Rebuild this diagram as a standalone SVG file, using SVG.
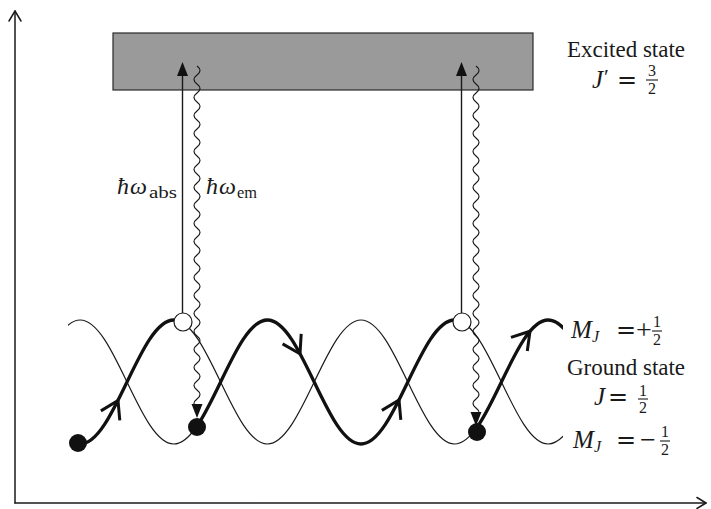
<svg xmlns="http://www.w3.org/2000/svg" xmlns:xlink="http://www.w3.org/1999/xlink" width="711" height="509" viewBox="0 0 711 509">
<style>
.ax{fill:none;stroke:#1a1a1a;stroke-width:1.5;stroke-linecap:round;stroke-linejoin:round}
.thin{fill:none;stroke:#1a1a1a;stroke-width:1.2}
.thick{fill:none;stroke:#111;stroke-width:3.3}
.chev{fill:none;stroke:#111;stroke-width:3;stroke-linecap:butt;stroke-linejoin:miter}
.ln{fill:none;stroke:#1a1a1a;stroke-width:1.4}
.wavy{fill:none;stroke:#1a1a1a;stroke-width:1.2}
.head{fill:#111;stroke:none}
.open{fill:#fff;stroke:#1a1a1a;stroke-width:1.2}
.dot{fill:#111}
.rm{font-family:"Liberation Serif","Times New Roman",serif;fill:#1a1a1a}
.it{font-family:"Liberation Serif","Times New Roman",serif;font-style:italic;fill:#1a1a1a}
.op{font-family:"DejaVu Serif","Liberation Serif",serif;fill:#1a1a1a;text-anchor:middle}
.sg{font-family:"Liberation Serif","Times New Roman",serif;fill:#1a1a1a;text-anchor:middle}
.fr{font-family:"Liberation Serif","Times New Roman",serif;fill:#1a1a1a;text-anchor:middle;font-size:16px}
.bar{stroke:#1a1a1a;stroke-width:1.1}
</style>
<defs>
<path id="waveA" d="M -13.4 320 C 20.7 320 46.1 444 80.2 444 C 114.3 444 139.7 320 173.8 320 C 207.9 320 233.3 444 267.4 444 C 301.5 444 326.9 320 361 320 C 395.1 320 420.5 444 454.6 444 C 488.7 444 514.1 320 548.2 320 C 582.3 320 607.7 444 641.8 444"/>
<path id="waveB" d="M -13.4 444 C 20.7 444 46.1 320 80.2 320 C 114.3 320 139.7 444 173.8 444 C 207.9 444 233.3 320 267.4 320 C 301.5 320 326.9 444 361 444 C 395.1 444 420.5 320 454.6 320 C 488.7 320 514.1 444 548.2 444 C 582.3 444 607.7 320 641.8 320"/>
<clipPath id="cThickA1"><rect x="78" y="300" width="105" height="170"/></clipPath>
<clipPath id="cThickA2"><rect x="477" y="300" width="86" height="170"/></clipPath>
<clipPath id="cThickB"><rect x="197" y="300" width="265" height="170"/></clipPath>
<clipPath id="cThinA"><rect x="183" y="300" width="294" height="170"/></clipPath>
<clipPath id="cThinB1"><rect x="68" y="300" width="129" height="170"/></clipPath>
<clipPath id="cThinB2"><rect x="462" y="300" width="101" height="170"/></clipPath>
</defs>

<g id="axes">
<path class="ax" d="M 15 503 L 15 11"/>
<path class="ax" d="M 9 21 L 15 11 L 21 21"/>
<path class="ax" d="M 15 503 L 706 503"/>
<path class="ax" d="M 697 497.5 L 706 503 L 697 508.5"/>
</g>

<g id="excited-state">
<rect x="113" y="33" width="420" height="57" fill="#9a9a9a" stroke="#2a2a2a" stroke-width="1.2"/>
</g>

<g id="ground-levels">
<use xlink:href="#waveB" class="thin" clip-path="url(#cThinB1)"/>
<use xlink:href="#waveA" class="thin" clip-path="url(#cThinA)"/>
<use xlink:href="#waveB" class="thin" clip-path="url(#cThinB2)"/>
<use xlink:href="#waveA" class="thick" clip-path="url(#cThickA1)"/>
<use xlink:href="#waveB" class="thick" clip-path="url(#cThickB)"/>
<use xlink:href="#waveA" class="thick" clip-path="url(#cThickA2)"/>
<path class="chev" d="M 100.9 410.9 L 118 400.5 L 119.8 420.4"/>
<path class="chev" d="M 282.6 343.9 L 300 353.8 L 301.2 333.8"/>
<path class="chev" d="M 381.9 410.4 L 399 400 L 400.8 419.9"/>
<path class="chev" d="M 511 337.4 L 530 331.2 L 527.3 351"/>
</g>

<g id="connectors">
<line class="ln" x1="182.5" y1="75" x2="182.5" y2="313"/>
<path class="head" d="M 182.5 62 L 188 76 L 177 76 Z"/>
<line class="ln" x1="461.5" y1="75" x2="461.5" y2="313"/>
<path class="head" d="M 461.5 62 L 467 76 L 456 76 Z"/>
<path class="wavy" d="M 197 66 q 6 4.5 0 9 t 0 9 t 0 9 t 0 9 t 0 9 t 0 9 t 0 9 t 0 9 t 0 9 t 0 9 t 0 9 t 0 9 t 0 9 t 0 9 t 0 9 t 0 9 t 0 9 t 0 9 t 0 9 t 0 9 t 0 9 t 0 9 t 0 9 t 0 9 t 0 9 t 0 9 t 0 9 t 0 9 t 0 9 t 0 9 t 0 9 t 0 9 t 0 9 t 0 9 t 0 9 t 0 9 t 0 9 t 0 9"/>
<path class="head" d="M 197 418 L 191.5 404 L 202.5 404 Z"/>
<path class="wavy" d="M 476 66 q 6 4.5 0 9 t 0 9 t 0 9 t 0 9 t 0 9 t 0 9 t 0 9 t 0 9 t 0 9 t 0 9 t 0 9 t 0 9 t 0 9 t 0 9 t 0 9 t 0 9 t 0 9 t 0 9 t 0 9 t 0 9 t 0 9 t 0 9 t 0 9 t 0 9 t 0 9 t 0 9 t 0 9 t 0 9 t 0 9 t 0 9 t 0 9 t 0 9 t 0 9 t 0 9 t 0 9 t 0 9 t 0 9 t 0 9 t 0 9"/>
<path class="head" d="M 476 426 L 470.5 412 L 481.5 412 Z"/>
</g>

<g id="atom-1"><circle class="dot" cx="78" cy="443" r="9"/></g>
<g id="atom-2"><circle class="open" cx="183" cy="322" r="9"/></g>
<g id="atom-3"><circle class="dot" cx="197" cy="427" r="9"/></g>
<g id="atom-4"><circle class="open" cx="462" cy="322" r="9"/></g>
<g id="atom-5"><circle class="dot" cx="477" cy="432" r="9"/></g>

<g id="label-abs">
<text class="it" x="117" y="194" font-size="24">ħ</text>
<text class="it" x="130" y="194" font-size="24">ω</text>
<text class="rm" x="149" y="198" font-size="16" textLength="28" lengthAdjust="spacingAndGlyphs">abs</text>
</g>
<g id="label-em">
<text class="it" x="206" y="194" font-size="24">ħ</text>
<text class="it" x="219" y="194" font-size="24">ω</text>
<text class="rm" x="237" y="198" font-size="16" textLength="20" lengthAdjust="spacingAndGlyphs">em</text>
</g>

<g id="label-excited">
<text class="rm" x="626" y="57" font-size="23" text-anchor="middle">Excited state</text>
<text class="it" x="592" y="88" font-size="25">J</text>
<text class="rm" x="604" y="84" font-size="22">′</text>
<text class="op" x="627" y="88" font-size="24">=</text>
<text class="fr" x="652" y="76">3</text>
<line class="bar" x1="646" y1="80" x2="658" y2="80"/>
<text class="fr" x="652" y="94">2</text>
</g>

<g id="label-plus">
<text class="it" x="571" y="338" font-size="25">M</text>
<text class="it" x="592" y="342" font-size="16">J</text>
<text class="op" x="626" y="338" font-size="24">=</text>
<text class="sg" x="644" y="339" font-size="28">+</text>
<text class="fr" x="657" y="327">1</text>
<line class="bar" x1="652" y1="331" x2="662" y2="331"/>
<text class="fr" x="657" y="345">2</text>
</g>

<g id="label-ground">
<text class="rm" x="626" y="375" font-size="23" text-anchor="middle">Ground state</text>
<text class="it" x="594" y="405" font-size="25">J</text>
<text class="op" x="618" y="405" font-size="24">=</text>
<text class="fr" x="643" y="396">1</text>
<line class="bar" x1="638" y1="399" x2="648" y2="399"/>
<text class="fr" x="643" y="413">2</text>
</g>

<g id="label-minus">
<text class="it" x="573" y="448" font-size="25">M</text>
<text class="it" x="594" y="452" font-size="16">J</text>
<text class="op" x="626" y="448" font-size="24">=</text>
<text class="sg" x="648" y="449" font-size="28">−</text>
<text class="fr" x="665" y="437">1</text>
<line class="bar" x1="660" y1="441" x2="670" y2="441"/>
<text class="fr" x="665" y="455">2</text>
</g>
</svg>
